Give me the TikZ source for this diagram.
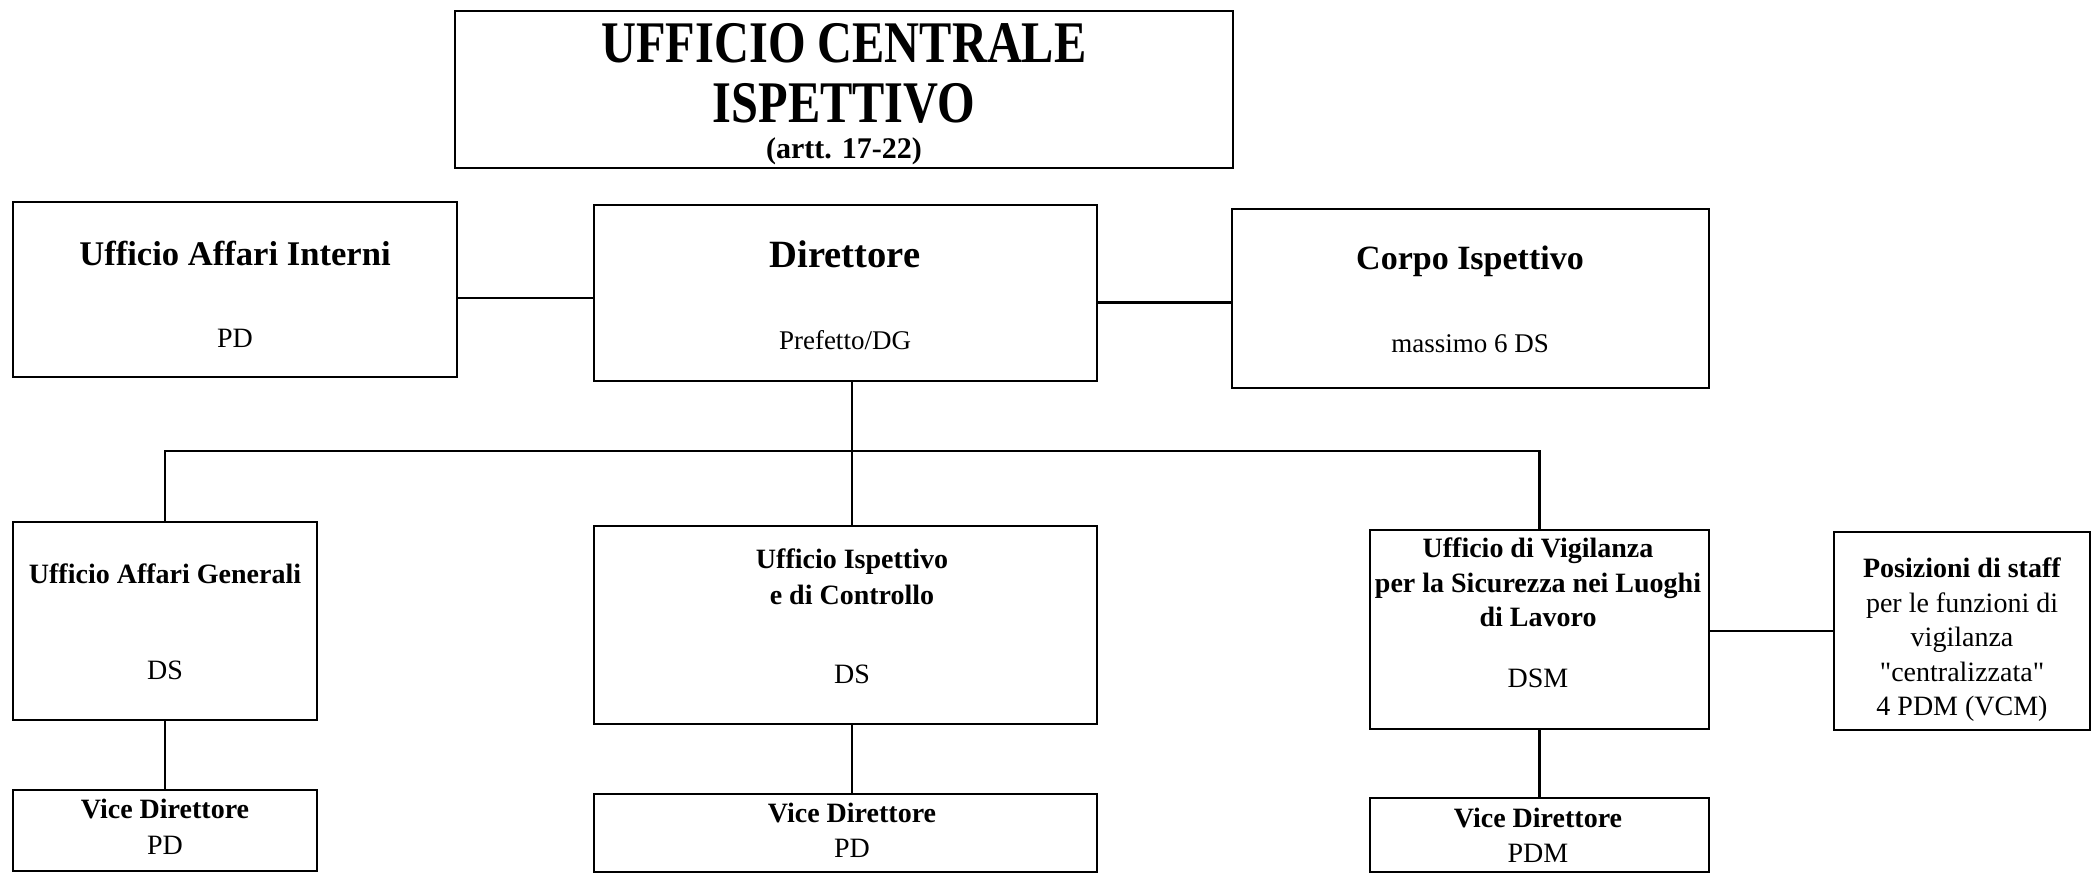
\documentclass[tikz,border=0pt]{standalone}
\usepackage{fontspec}
\setmainfont{Liberation Serif}
\newfontfamily\titlefont[FakeStretch=0.82]{Liberation Serif}
\newfontfamily\nq{Liberation Serif}
\begin{document}
\begin{tikzpicture}[x=0.5pt,y=-0.5pt,
  box/.style={draw=black,line width=1.4pt,inner sep=0pt},
  conn/.style={draw=black,line width=1.2pt},
  lbl/.style={inner sep=0pt,align=center,text=black},
  hd/.style={lbl,font=\bfseries\fontsize{14}{18}\selectfont},
  rg/.style={lbl,font=\fontsize{14}{18}\selectfont}]
\useasboundingbox (0,0) rectangle (2097,875);

% boxes
\node[box,minimum width=389pt,minimum height=78.5pt] (title) at (844,89.5) {};
\node[box,minimum width=222pt,minimum height=87.5pt] (uai) at (235,289.5) {};
\node[box,minimum width=251.5pt,minimum height=88pt] (dir) at (845.5,293) {};
\node[box,minimum width=238.5pt,minimum height=89.5pt] (corpo) at (1470.5,298.5) {};
\node[box,minimum width=152pt,minimum height=99pt] (uag) at (165,621) {};
\node[box,minimum width=251.5pt,minimum height=99pt] (uic) at (845.5,625) {};
\node[box,minimum width=169.5pt,minimum height=99.5pt] (uvig) at (1539.5,629.5) {};
\node[box,minimum width=128pt,minimum height=99pt] (pos) at (1962,631) {};
\node[box,minimum width=152pt,minimum height=40.5pt] (vd1) at (165,830.5) {};
\node[box,minimum width=251.5pt,minimum height=39pt] (vd2) at (845.5,833) {};
\node[box,minimum width=169.5pt,minimum height=37pt] (vd3) at (1539.5,835) {};

% title texts
\node[lbl,font=\titlefont\bfseries\fontsize{29.5}{30}\selectfont] (t1) at (844,43.5) {UFFICIO CENTRALE};
\node[lbl,font=\titlefont\bfseries\fontsize{29.5}{30}\selectfont] (t2) at (844,103) {ISPETTIVO};
\node[lbl,font=\bfseries\fontsize{15}{16}\selectfont] (t3) at (844,151) {(artt. 17-22)};

% top row texts
\node[lbl,font=\bfseries\fontsize{17.3}{20}\selectfont] (uai-t) at (235,253) {Ufficio Affari Interni};
\node[rg] (uai-s) at (235,338) {PD};
\node[lbl,font=\bfseries\fontsize{19.3}{22}\selectfont] (dir-t) at (845,254) {Direttore};
\node[rg,font=\fontsize{13.5}{16}\selectfont] (dir-s) at (845,340) {Prefetto/DG};
\node[lbl,font=\bfseries\fontsize{17}{20}\selectfont] (corpo-t) at (1470,261) {Corpo Ispettivo};
\node[rg,font=\fontsize{13.5}{16}\selectfont] (corpo-s) at (1470,344) {massimo 6 DS};

% second row texts
\node[hd] (uag-t) at (165,574) {Ufficio Affari Generali};
\node[rg] (uag-s) at (165,670) {DS};
\node[hd] (uic-t) at (852,577) {Ufficio Ispettivo\\e di Controllo};
\node[rg] (uic-s) at (852,674) {DS};
\node[hd,font=\bfseries\fontsize{14}{17.25}\selectfont] (uvig-t) at (1538,582.5) {Ufficio di Vigilanza\\per la Sicurezza nei Luoghi\\di Lavoro};
\node[rg] (uvig-s) at (1538,678) {DSM};
\node[rg,font=\fontsize{14}{17.25}\selectfont] (pos-t) at (1962,640) {\textbf{Posizioni di staff}\\per le funzioni di\\vigilanza\\{\nq"}centralizzata{\nq"}\\4 PDM (VCM)};

% vice direttori
\node[hd] (vd1-t) at (165,809) {Vice Direttore};
\node[rg] (vd1-s) at (165,845) {PD};
\node[hd] (vd2-t) at (852,813) {Vice Direttore};
\node[rg] (vd2-s) at (852,848) {PD};
\node[hd] (vd3-t) at (1538,818) {Vice Direttore};
\node[rg] (vd3-s) at (1538,853) {PDM};

% connectors
\coordinate (busc) at (852,451);
\draw[conn] ([yshift=-2.5pt]dir.west) -- ([yshift=-2.5pt]dir.west -| uai.east);
\draw[conn] ([yshift=-2pt]corpo.west) -- ([yshift=-2pt]corpo.west -| dir.east);
\draw[conn] (dir.south -| busc) -- (busc);
\draw[conn] (uag.north) |- (busc) -| (uvig.north);
\draw[conn] (busc) -- (uic.north -| busc);
\draw[conn] (uag.south) -- (vd1.north);
\draw[conn] (uic.south -| busc) -- (vd2.north -| busc);
\draw[conn] (uvig.south) -- (vd3.north);
\draw[conn] (pos.west) -- (pos.west -| uvig.east);
\end{tikzpicture}
\end{document}
